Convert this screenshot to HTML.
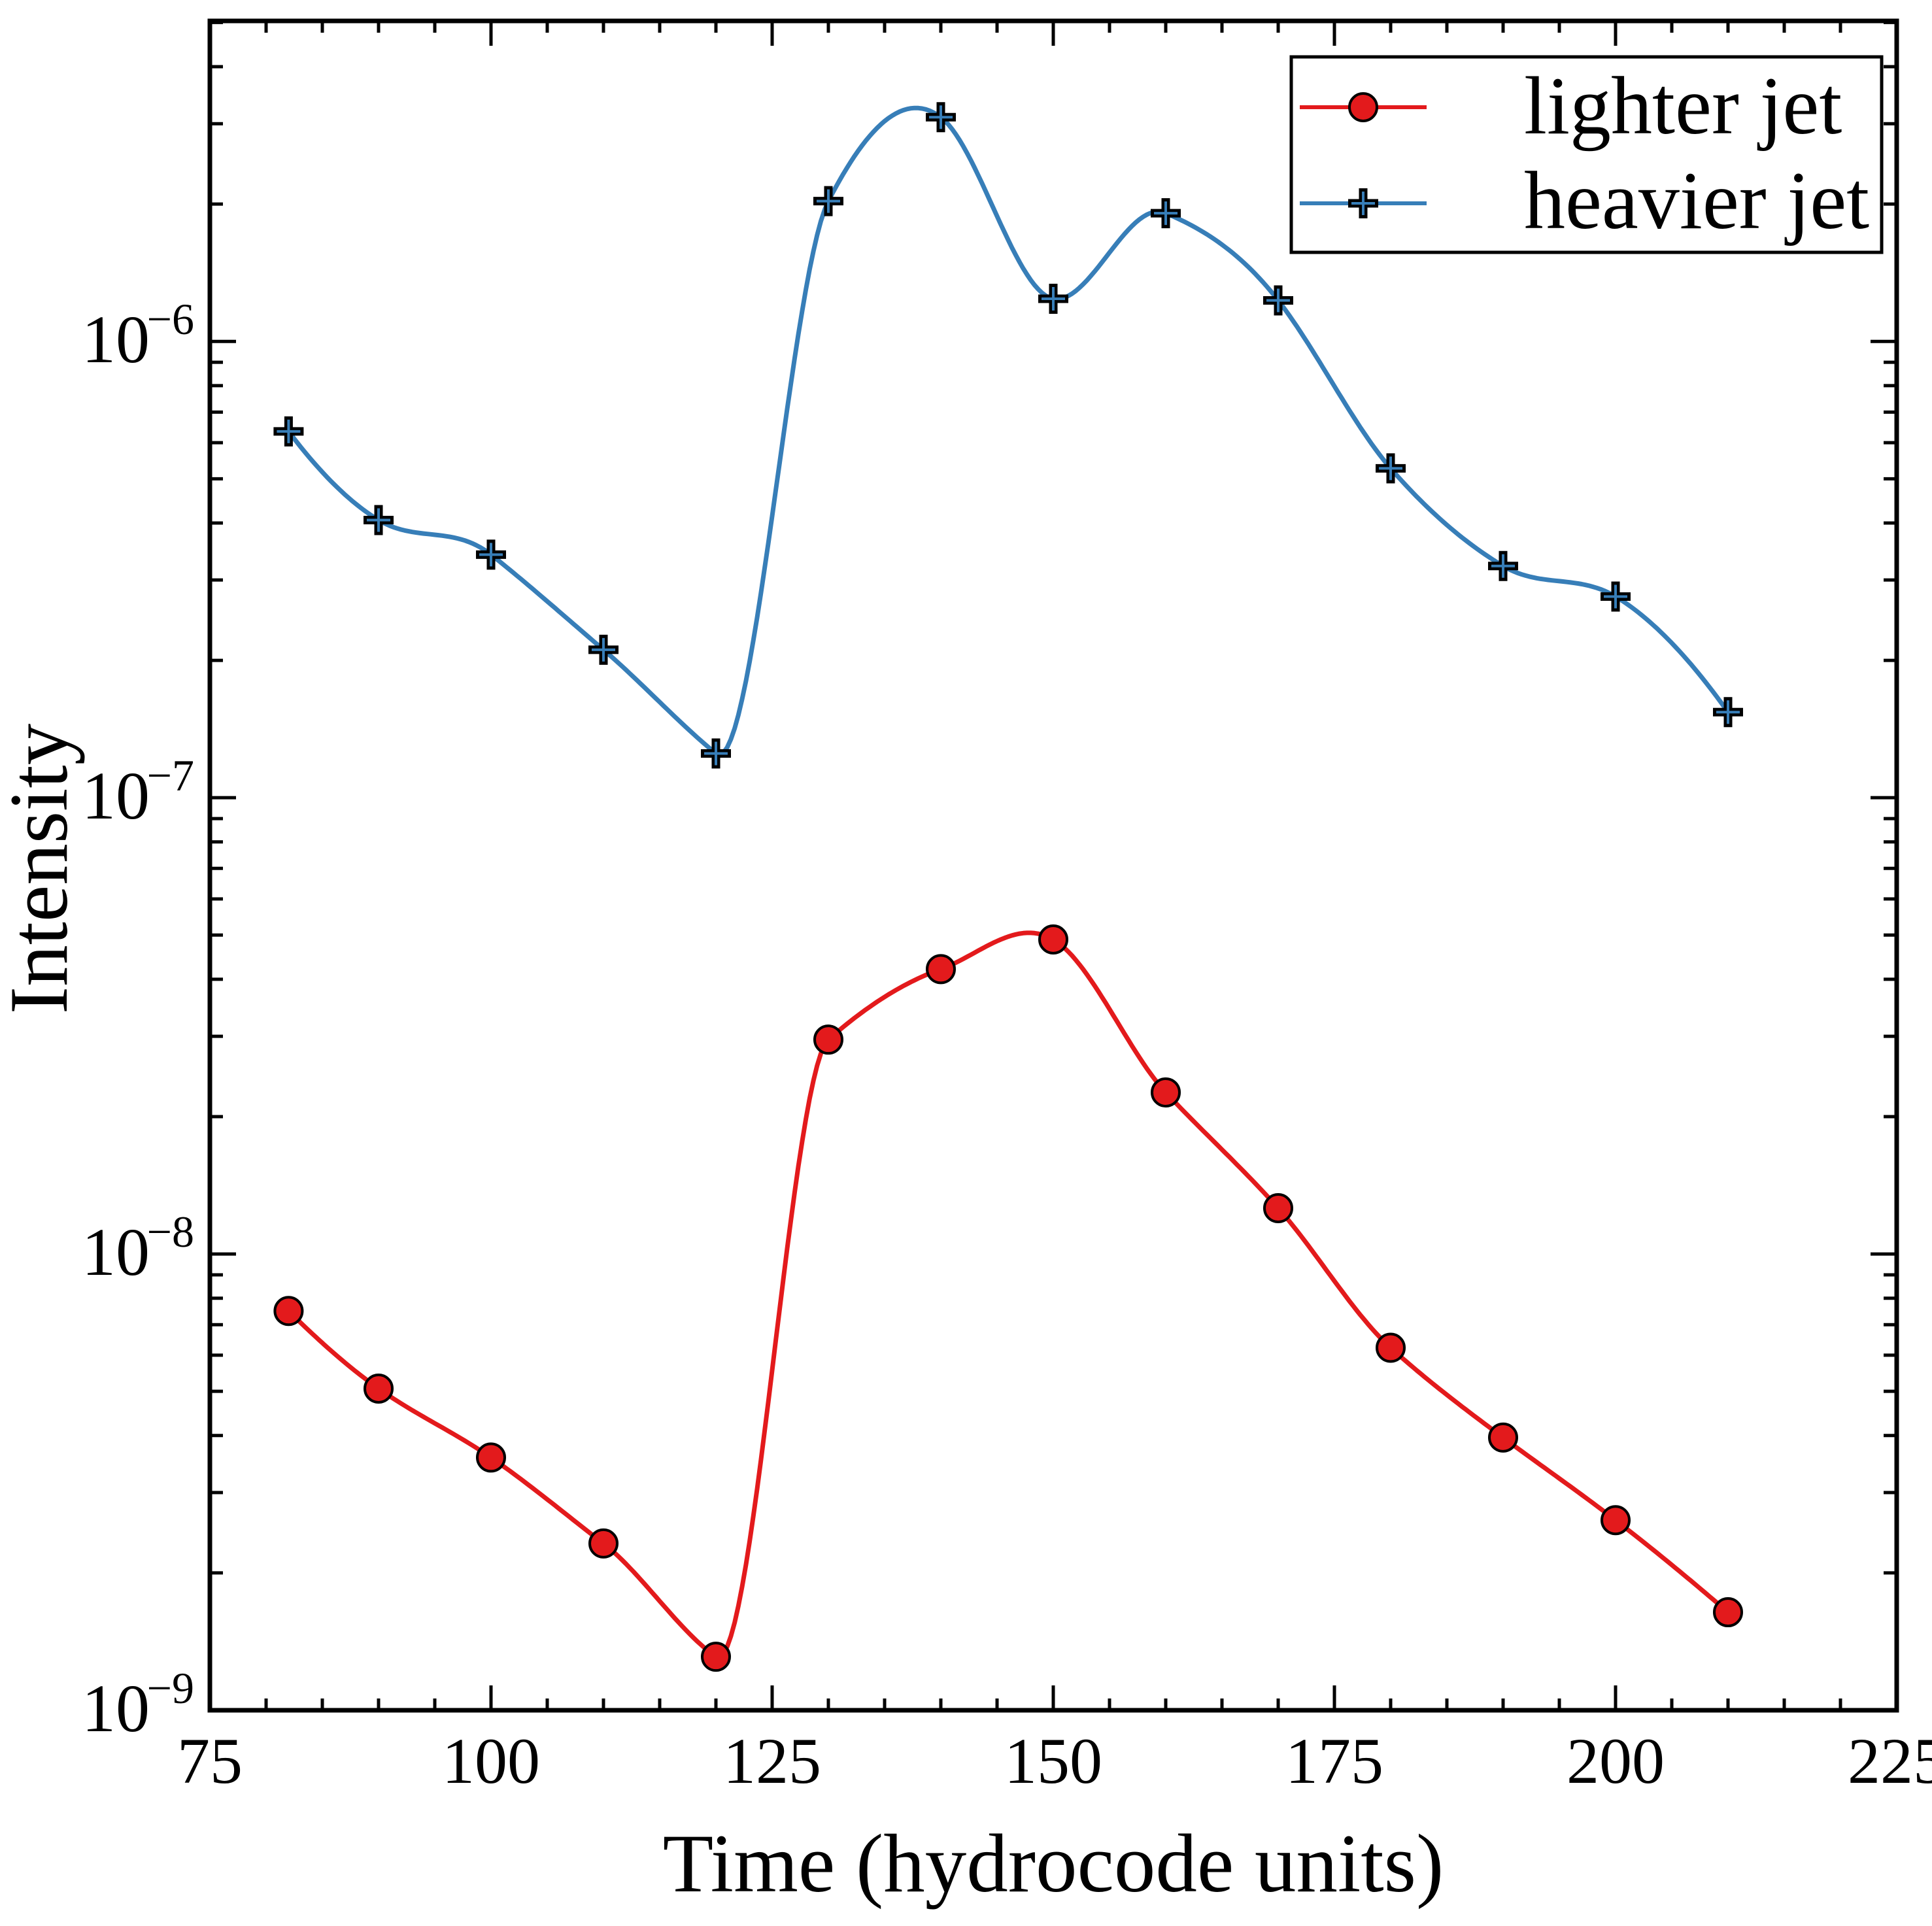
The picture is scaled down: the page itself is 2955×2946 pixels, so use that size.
<!DOCTYPE html>
<html><head><meta charset="utf-8">
<style>
html,body{margin:0;padding:0;background:#fff;}
svg{display:block;}
text{font-family:"Liberation Serif",serif;fill:#000;}
</style></head>
<body>
<svg id="chart" width="2955" height="2946" viewBox="0 0 2955 2946" xmlns="http://www.w3.org/2000/svg">
  <rect x="0" y="0" width="2955" height="2946" fill="#fff"/>
  <g id="grid-ticks"></g>
  <g id="series"></g>
  <rect x="321" y="32" width="2580" height="2584" fill="none" stroke="#000" stroke-width="7"/>
  <g id="labels"></g>
  <text x="1611" y="2893" font-size="127" text-anchor="middle">Time (hydrocode units)</text>
  <text x="0" y="0" font-size="127" text-anchor="middle" transform="translate(102,1329) rotate(-90)">Intensity</text>
  <g>
    <rect x="1975" y="87" width="903" height="299" fill="#fff" stroke="#000" stroke-width="5"/>
    <g>
      <line x1="1988" y1="164" x2="2182" y2="164" stroke="#e31a1c" stroke-width="6"/>
      <circle cx="2085" cy="164" r="21" fill="#e31a1c" stroke="#000" stroke-width="4"/>
      <text x="2331" y="204" font-size="126">lighter jet</text>
    </g>
    <g>
      <line x1="1988" y1="311" x2="2182" y2="311" stroke="#377eb8" stroke-width="6"/>
      <path d="M2085 288 V334 M2062 311 H2108" stroke="#000" stroke-width="13"/>
      <path d="M2085 293 V329 M2067 311 H2103" stroke="#377eb8" stroke-width="4"/>
      <text x="2331" y="349" font-size="126">heavier jet</text>
    </g>
  </g>
</svg>
<script>
const times = [82, 90, 100, 110, 120, 130, 140, 150, 160, 170, 180, 190, 200, 210];
const lighterJet = [7.5e-9, 5.07e-9, 3.58e-9, 2.32e-9, 1.31e-9, 2.95e-8, 4.21e-8, 4.89e-8, 2.26e-8, 1.26e-8, 6.23e-9, 3.96e-9, 2.61e-9, 1.64e-9];
const heavierJet = [6.35e-7, 4.06e-7, 3.41e-7, 2.11e-7, 1.25e-7, 2.03e-6, 3.10e-6, 1.24e-6, 1.91e-6, 1.23e-6, 5.27e-7, 3.22e-7, 2.76e-7, 1.54e-7];
const xTickLabels = [75, 100, 125, 150, 175, 200, 225];
const yDecades = [-9, -8, -7, -6];

const NS = "http://www.w3.org/2000/svg";
const L = 321, R = 2901, T = 32, B = 2616;
const X0 = 75, X1 = 225, YMIN = -9, YMAX = Math.log10(5.04e-6);
function xs(v){ return L + (v - X0) / (X1 - X0) * (R - L); }
function ys(v){ return B - (Math.log10(v) - YMIN) / (YMAX - YMIN) * (B - T); }
function mk(tag, attrs, parent){ const e = document.createElementNS(NS, tag); for (const k in attrs) e.setAttribute(k, attrs[k]); parent.appendChild(e); return e; }

const ticks = document.getElementById('grid-ticks');
const labels = document.getElementById('labels');
for (let v = X0; v <= X1; v += 5) {
  const major = v % 25 === 0;
  const len = major ? 38 : 18;
  const x = xs(v);
  const t1 = mk('line', {x1:x, y1:B, x2:x, y2:B-len, stroke:'#000', 'stroke-width':5}, ticks);
  
  
  const t2 = mk('line', {x1:x, y1:T, x2:x, y2:T+len, stroke:'#000', 'stroke-width':5}, ticks);
  
  
}
xTickLabels.forEach(v => {
  const t = mk('text', {x:xs(v), y:2727, 'font-size':100, 'text-anchor':'middle'}, labels);
  t.textContent = String(v);
  
  
});
for (let d = -9; d <= -6; d++) {
  for (let m = 1; m <= 9; m++) {
    const v = m * Math.pow(10, d);
    if (Math.log10(v) > YMAX) continue;
    const y = ys(v);
    const len = m === 1 ? 40 : 20;
    const a = mk('line', {x1:L, y1:y, x2:L+len, y2:y, stroke:'#000', 'stroke-width':5}, ticks);
    
    
    const b = mk('line', {x1:R, y1:y, x2:R-len, y2:y, stroke:'#000', 'stroke-width':5}, ticks);
    
    
  }
}
yDecades.forEach(d => {
  const y = ys(Math.pow(10, d));
  const t = mk('text', {x:229, y:y+32, 'font-size':104, 'text-anchor':'end'}, labels);
  t.textContent = '10';
  
  
  const s = mk('text', {x:297, y:y-11, 'font-size':68, 'text-anchor':'end'}, labels);
  s.textContent = '\u2212' + String(-d);
  
  
});

// Akima spline in log space
function akima(xv, yv){
  const n = xv.length, m = [];
  for (let i = 0; i < n-1; i++) m.push((yv[i+1]-yv[i])/(xv[i+1]-xv[i]));
  const mm = [2*m[0]-m[1], 0, ...m, 0, 0];
  mm[1] = 2*mm[0] - m[0]; // simple extension
  const ext = [];
  ext[0] = 3*m[0]-2*m[1]; ext[1] = 2*m[0]-m[1];
  for (let i = 0; i < n-1; i++) ext[i+2] = m[i];
  ext[n+1] = 2*m[n-2]-m[n-3]; ext[n+2] = 3*m[n-2]-2*m[n-3];
  const t = [];
  for (let i = 0; i < n; i++) {
    const w1 = Math.abs(ext[i+3]-ext[i+2]), w2 = Math.abs(ext[i+1]-ext[i]);
    t.push(w1 + w2 < 1e-12 ? (ext[i+1]+ext[i+2])/2 : (w1*ext[i+1] + w2*ext[i+2])/(w1+w2));
  }
  const pts = [];
  for (let i = 0; i < n-1; i++) {
    const h = xv[i+1]-xv[i];
    for (let k = 0; k < 30; k++) {
      const s = k/30, s2 = s*s, s3 = s2*s;
      const y = (2*s3-3*s2+1)*yv[i] + (s3-2*s2+s)*h*t[i] + (-2*s3+3*s2)*yv[i+1] + (s3-s2)*h*t[i+1];
      pts.push([xv[i]+s*h, y]);
    }
  }
  pts.push([xv[n-1], yv[n-1]]);
  return pts;
}
function drawLine(vals, color, name){
  const pts = akima(times, vals.map(v => Math.log10(v)));
  const dstr = pts.map((p, i) => (i ? 'L' : 'M') + xs(p[0]).toFixed(1) + ' ' + ys(Math.pow(10, p[1])).toFixed(1)).join(' ');
  const p = mk('path', {d:dstr, fill:'none', stroke:color, 'stroke-width':7, 'stroke-linejoin':'round'}, document.getElementById('series'));
  
  
}
const ser = document.getElementById('series');
drawLine(lighterJet, '#e31a1c', 'lighter-jet-line');
drawLine(heavierJet, '#377eb8', 'heavier-jet-line');
times.forEach((t, i) => {
  const c = mk('circle', {cx:xs(t), cy:ys(lighterJet[i]), r:21, fill:'#e31a1c', stroke:'#000', 'stroke-width':4}, ser);
  
  
  const x = xs(t), y = ys(heavierJet[i]);
  const g = mk('g', {}, ser);
  
  
  mk('path', {d:`M${x} ${y-23} V${y+23} M${x-23} ${y} H${x+23}`, stroke:'#000', 'stroke-width':13}, g);
  mk('path', {d:`M${x} ${y-18} V${y+18} M${x-18} ${y} H${x+18}`, stroke:'#377eb8', 'stroke-width':4}, g);
});
</script>
</body></html>
